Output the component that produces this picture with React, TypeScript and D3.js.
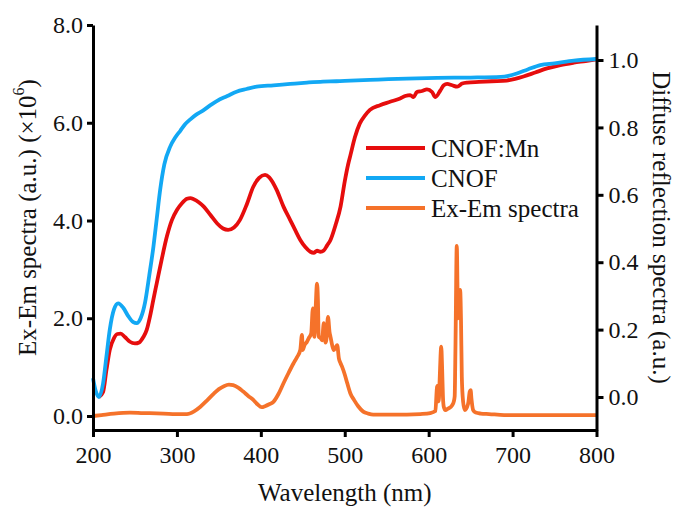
import React, { useEffect, useRef } from 'react';
import * as d3 from 'd3';

// CNOF diffuse reflection (right axis)
const cnofNm = [200, 203, 207, 212, 216, 220, 225, 230, 236, 242, 248, 252, 257, 262, 267, 272, 276, 280, 285, 292, 298, 304, 310, 316, 323, 331, 340, 348, 360, 371, 383, 395, 415, 435, 455, 474, 490, 507, 540, 574, 610, 650, 686, 695, 705, 718, 733, 750, 773, 800];
const cnofR = [0.056, 0.02, 0.0, 0.04, 0.12, 0.2, 0.26, 0.278, 0.265, 0.24, 0.222, 0.219, 0.235, 0.28, 0.36, 0.446, 0.53, 0.614, 0.69, 0.743, 0.77, 0.79, 0.81, 0.824, 0.838, 0.85, 0.866, 0.879, 0.893, 0.906, 0.914, 0.921, 0.925, 0.929, 0.933, 0.936, 0.937, 0.939, 0.942, 0.945, 0.947, 0.948, 0.95, 0.953, 0.96, 0.972, 0.985, 0.99, 0.998, 1.003];

// CNOF:Mn diffuse reflection (right axis)
const mnNm = [207, 212, 216, 220, 225, 229, 233, 238, 244, 250, 255, 260, 264, 268, 272, 276, 282, 288, 294, 300, 306, 312, 316, 320, 326, 332, 340, 348, 355, 361, 368, 375, 383, 391, 398, 405, 410, 419, 427, 435, 441, 447, 453, 459, 463, 467, 471, 475, 479, 483, 489, 495, 500, 504, 507, 512, 518, 524, 530, 542, 554, 566, 572, 578, 582, 586, 592, 598, 604, 608, 614, 618, 622, 628, 634, 640, 646, 660, 675, 693, 703, 713, 727, 741, 757, 773, 787, 800];
const mnR = [0.0, 0.015, 0.08, 0.14, 0.175, 0.187, 0.188, 0.178, 0.164, 0.159, 0.162, 0.178, 0.199, 0.24, 0.29, 0.338, 0.41, 0.476, 0.525, 0.555, 0.575, 0.588, 0.59, 0.587, 0.578, 0.565, 0.54, 0.515, 0.5, 0.496, 0.503, 0.525, 0.57, 0.624, 0.65, 0.659, 0.652, 0.614, 0.565, 0.525, 0.495, 0.466, 0.445, 0.431, 0.428, 0.434, 0.431, 0.435, 0.45, 0.466, 0.51, 0.565, 0.64, 0.69, 0.72, 0.77, 0.812, 0.835, 0.852, 0.866, 0.876, 0.886, 0.893, 0.896, 0.89, 0.905, 0.908, 0.913, 0.905, 0.89, 0.91, 0.925, 0.929, 0.925, 0.921, 0.93, 0.933, 0.935, 0.937, 0.939, 0.944, 0.951, 0.963, 0.975, 0.985, 0.992, 0.997, 1.002];

// Ex-Em spectra (left axis, x10^6)
const exNm = [200, 210, 225, 244, 260, 276, 295, 312, 320, 328, 336, 344, 350, 356, 362, 367, 373, 379, 385, 391, 396, 401, 405, 410, 415, 421, 427, 433, 439, 443, 447, 449, 450, 452, 455, 457, 460, 462, 463, 464, 465, 467, 468, 469, 471, 473, 475, 477, 478, 480, 482, 483, 485, 487, 489, 491, 493, 495, 497, 500, 503, 507, 511, 516, 522, 528, 534, 550, 574, 590, 602, 608, 610, 611, 612, 613, 615, 616, 617, 618, 620, 623, 626, 628, 630, 631, 632, 633.5, 635, 636.5, 637.5, 638.5, 639.5, 641, 643, 647, 649, 650, 651, 653, 656, 662, 672, 690, 720, 760, 800];
const exVal = [0.0, 0.02, 0.05, 0.07, 0.06, 0.055, 0.04, 0.04, 0.09, 0.19, 0.32, 0.46, 0.55, 0.61, 0.64, 0.63, 0.58, 0.5, 0.41, 0.33, 0.24, 0.18, 0.2, 0.24, 0.29, 0.45, 0.67, 0.88, 1.08, 1.2, 1.35, 1.66, 1.35, 1.45, 1.52, 1.59, 1.69, 2.2, 1.75, 1.62, 2.05, 2.71, 2.4, 1.62, 1.6, 1.55, 1.9, 1.5, 1.55, 2.03, 1.7, 1.62, 1.45, 1.35, 1.4, 1.45, 1.18, 1.08, 1.0, 0.85, 0.67, 0.45, 0.33, 0.2, 0.09, 0.05, 0.03, 0.03, 0.03, 0.04, 0.06, 0.1, 0.6, 0.62, 0.3, 0.7, 1.42, 1.0, 0.4, 0.19, 0.12, 0.15, 0.18, 0.22, 0.3, 0.4, 1.5, 3.48, 2.0, 2.2, 2.58, 2.0, 0.8, 0.3, 0.12, 0.25, 0.5, 0.53, 0.35, 0.12, 0.07, 0.05, 0.04, 0.02, 0.02, 0.02, 0.02];

const xTicks = [200, 300, 400, 500, 600, 700, 800];
const leftTicks = [0, 2, 4, 6, 8];
const rightTicks = [0, 0.2, 0.4, 0.6, 0.8, 1.0];

const legendNames = ['CNOF:Mn', 'CNOF', 'Ex-Em spectra'];
const colors = ['#E60D0D', '#12A8F4', '#F5722A'];

const W = 673;
const H = 510;
const left = 93;
const right = 596.5;
const top = 25;
const bottom = 430;
const FONT = "'Liberation Serif', Tinos, 'Times New Roman', Times, 'DejaVu Serif', serif";

const App = () => {
  const axRef = useRef<SVGGElement>(null);

  const x = d3.scaleLinear().domain([200, 800]).range([left, right]);
  const yL = d3.scaleLinear().domain([-0.2864, 8]).range([bottom, top]);
  const yR = d3.scaleLinear().domain([-0.0979, 1.1039]).range([bottom, top]);

  const mkLine = (xs: number[], ys: number[], sc: d3.ScaleLinear<number, number>) =>
    d3.line<number>()
      .x((d, i) => x(xs[i]))
      .y((d) => sc(d))
      .curve(d3.curveMonotoneX)(ys) || '';

  useEffect(() => {
    const g = d3.select(axRef.current);
    g.selectAll('*').remove();

    const xa = g.append('g')
      .attr('transform', `translate(0,${bottom})`)
      .call(d3.axisBottom(x).tickValues(xTicks).tickFormat(d3.format('d')).tickSize(7).tickSizeOuter(0).tickPadding(9));
    const la = g.append('g')
      .attr('transform', `translate(${left},0)`)
      .call(d3.axisLeft(yL).tickValues(leftTicks).tickFormat(d3.format('.1f')).tickSize(6).tickSizeOuter(0).tickPadding(4));
    const ra = g.append('g')
      .attr('transform', `translate(${right},0)`)
      .call(d3.axisRight(yR).tickValues(rightTicks).tickFormat(d3.format('.1f')).tickSize(7).tickSizeOuter(0).tickPadding(5));

    [xa, la, ra].forEach((a) => {
      a.attr('font-family', null).attr('font-size', null);
      a.select('.domain').attr('stroke', '#000').attr('stroke-width', 3);
      a.selectAll('.tick line').attr('stroke', '#000').attr('stroke-width', 3);
      a.selectAll('.tick text')
        .attr('fill', '#111')
        .attr('font-family', FONT)
        .attr('font-size', 24);
    });
  }, []);

  return (
    <svg width={W} height={H} style={{ position: 'absolute', left: 0, top: 0, background: '#fff', fontFamily: FONT }}>
      <path d={mkLine(exNm, exVal, yL)} fill="none" stroke={colors[2]} strokeWidth={3.8} strokeLinejoin="round" />
      <path d={mkLine(mnNm, mnR, yR)} fill="none" stroke={colors[0]} strokeWidth={3.8} strokeLinejoin="round" />
      <path d={mkLine(cnofNm, cnofR, yR)} fill="none" stroke={colors[1]} strokeWidth={3.8} strokeLinejoin="round" />
      <g ref={axRef} />

      {legendNames.map((name, i) => (
        <g key={name} transform={`translate(366,${148 + i * 30})`}>
          <line x1={0} x2={59} y1={0} y2={0} stroke={colors[i]} strokeWidth={4} />
          <text x={65} y={0} dy="0.35em" fontFamily={FONT} fontSize={25} fill="#111">{name}</text>
        </g>
      ))}

      <text x={(left + right) / 2} y={501} textAnchor="middle" fontFamily={FONT} fontSize={25} fill="#111">
        Wavelength (nm)
      </text>
      <text transform={`translate(27,${(top + bottom) / 2 - 10}) rotate(-90)`} textAnchor="middle" dominantBaseline="central" fontFamily={FONT} fontSize={25} fill="#111">
        Ex-Em spectra (a.u.) (×10<tspan dy="-9" fontSize={16}>6</tspan><tspan dy="9">)</tspan>
      </text>
      <text transform={`translate(661,${(top + bottom) / 2}) rotate(90)`} textAnchor="middle" dominantBaseline="central" fontFamily={FONT} fontSize={25} fill="#111">
        Diffuse reflection spectra (a.u.)
      </text>
    </svg>
  );
};

export default App;
